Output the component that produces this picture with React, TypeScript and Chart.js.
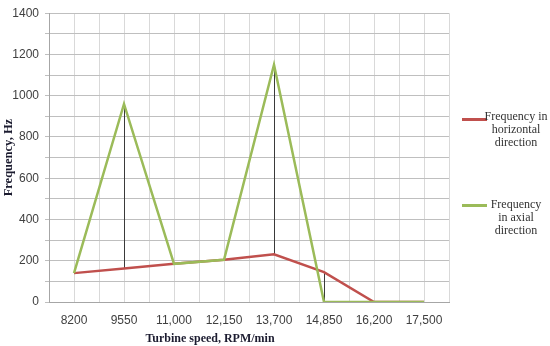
import React, { useEffect, useRef } from "react";
import { Chart, registerables } from "chart.js";

Chart.register(...registerables);

const categories = ["8200", "9550", "11,000", "12,150", "13,700", "14,850", "16,200", "17,500"];
const horizontal = [140, 162, 185, 205, 231, 145, 0, 0];
const axial = [140, 960, 185, 205, 1150, 0, 0, 0];
const yMax = 1400;
const yLabelStep = 200;
const seriesNames = ["Frequency in horizontal direction", "Frequency in axial direction"];

const RED = "#C0504D";
const GREEN = "#9BBB59";

const highLowPlugin = {
  id: "highLow",
  beforeDatasetsDraw(chart: any) {
    const a = chart.getDatasetMeta(0).data;
    const b = chart.getDatasetMeta(1).data;
    const ctx = chart.ctx;
    ctx.save();
    ctx.strokeStyle = "#3a3a3a";
    ctx.lineWidth = 1;
    for (let i = 0; i < Math.min(a.length, b.length); i++) {
      const x = Math.round(a[i].x) + 0.5;
      const y1 = Math.min(a[i].y, b[i].y);
      const y2 = Math.max(a[i].y, b[i].y);
      if (y2 - y1 < 1) continue;
      ctx.beginPath();
      ctx.moveTo(x, y1);
      ctx.lineTo(x, y2);
      ctx.stroke();
    }
    ctx.restore();
  },
};

export default function App() {
  const ref = useRef<HTMLCanvasElement | null>(null);

  useEffect(() => {
    document.body.style.margin = "0";
    if (!ref.current) return;
    const chart = new Chart(ref.current, {
      type: "line",
      data: {
        datasets: [
          {
            label: seriesNames[0],
            data: horizontal.map((v, i) => ({ x: i, y: v })),
            borderColor: RED,
            backgroundColor: RED,
            borderWidth: 2.5,
            pointRadius: 0,
            tension: 0,
            order: 1,
          },
          {
            label: seriesNames[1],
            data: axial.map((v, i) => ({ x: i, y: v })),
            borderColor: GREEN,
            backgroundColor: GREEN,
            borderWidth: 2.5,
            pointRadius: 0,
            tension: 0,
            order: 0,
          },
        ],
      },
      options: {
        animation: false,
        responsive: false,
        events: [],
        layout: { padding: { left: 0, top: 9, right: 101, bottom: 0 } },
        plugins: {
          legend: { display: false },
          tooltip: { enabled: false },
        },
        scales: {
          x: {
            type: "linear",
            min: -0.5,
            max: categories.length - 0.5,
            afterFit(scale: any) {
              scale.height = 44;
            },
            afterBuildTicks(scale: any) {
              const t = [];
              for (let v = -0.5; v <= categories.length - 0.5 + 1e-9; v += 0.5) t.push({ value: v });
              scale.ticks = t;
            },
            ticks: {
              autoSkip: false,
              maxRotation: 0,
              padding: 11,
              color: "#404040",
              font: { family: "'Liberation Sans', Arial, sans-serif", size: 12 },
              callback(value: any) {
                const v = Number(value);
                return Number.isInteger(v) && v >= 0 && v < categories.length ? categories[v] : "";
              },
            },
            grid: { color: "#d9d9d9", lineWidth: 1, drawTicks: false },
            border: { color: "#a6a6a6", width: 1 },
          },
          y: {
            type: "linear",
            min: 0,
            max: yMax,
            afterFit(scale: any) {
              scale.width = 49;
            },
            ticks: {
              stepSize: 100,
              padding: 6,
              color: "#404040",
              font: { family: "'Liberation Sans', Arial, sans-serif", size: 12 },
              callback(value: any) {
                const v = Number(value);
                return v % yLabelStep === 0 ? String(v) : "";
              },
            },
            grid: { color: "#bfbfbf", lineWidth: 1, drawTicks: true, tickLength: 4 },
            border: { color: "#a6a6a6", width: 1 },
            title: {
              display: true,
              text: "Frequency, Hz",
              color: "#1c1c30",
              font: { family: "'Liberation Serif', 'Times New Roman', serif", size: 12.5, weight: "bold" },
              padding: { top: 1, bottom: 0 },
            },
          },
        },
      },
      plugins: [highLowPlugin],
    } as any);
    return () => chart.destroy();
  }, []);

  const legendText: React.CSSProperties = {
    position: "absolute",
    left: 482,
    width: 68,
    textAlign: "center",
    fontFamily: "'Liberation Serif', 'Times New Roman', serif",
    fontSize: 12,
    lineHeight: "13px",
    color: "#333",
    whiteSpace: "nowrap",
  };

  return (
    <div style={{ position: "absolute", left: 0, top: 0, width: 550, height: 346, background: "#fff" }}>
      <canvas ref={ref} width={550} height={346} style={{ display: "block", width: 550, height: 346 }} />
      <div
        style={{
          position: "absolute",
          left: 110,
          width: 200,
          top: 331,
          textAlign: "center",
          fontFamily: "'Liberation Serif', 'Times New Roman', serif",
          fontWeight: "bold",
          fontSize: 12,
          lineHeight: "14px",
          color: "#1c1c30",
        }}
      >
        Turbine speed, RPM/min
      </div>
      <div style={{ position: "absolute", left: 462, top: 118, width: 25, height: 2.5, background: RED }} />
      <div style={{ ...legendText, top: 110 }}>
        Frequency in
        <br />
        horizontal
        <br />
        direction
      </div>
      <div style={{ position: "absolute", left: 462, top: 204, width: 25, height: 2.5, background: GREEN }} />
      <div style={{ ...legendText, top: 198 }}>
        Frequency
        <br />
        in axial
        <br />
        direction
      </div>
    </div>
  );
}
